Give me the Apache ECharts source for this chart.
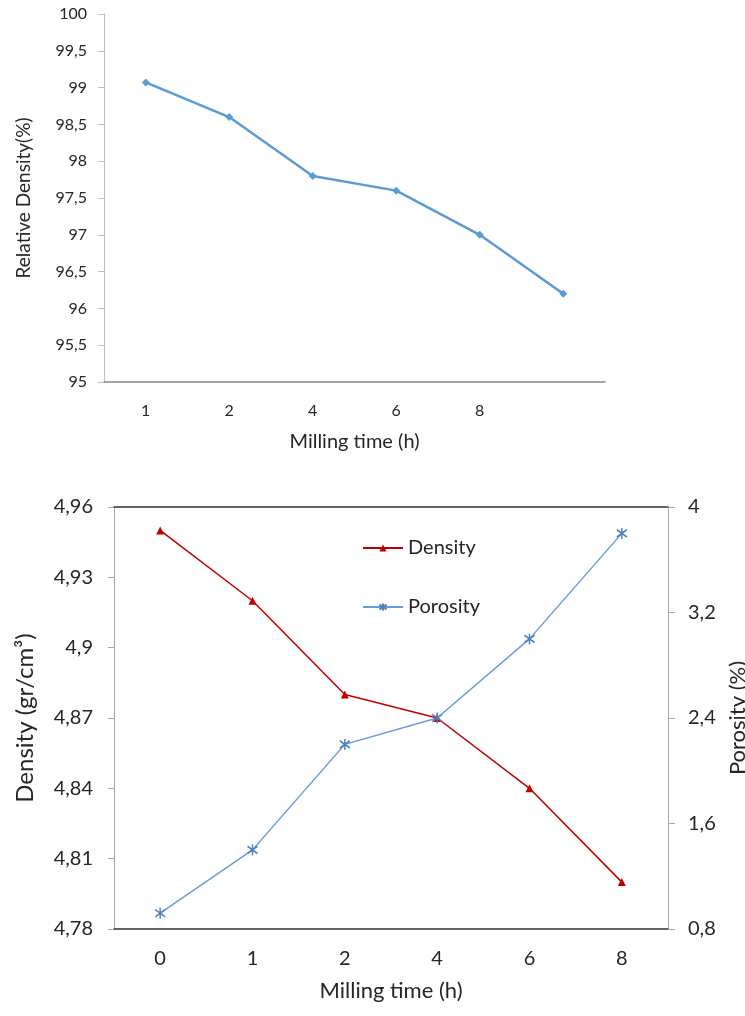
<!DOCTYPE html>
<html>
<head>
<meta charset="utf-8">
<script src="https://cdn.jsdelivr.net/npm/echarts@6/dist/echarts.min.js"></script>
<style>
  html, body { margin: 0; padding: 0; background: #fff; }
  #chart { width: 745px; height: 1016px; }
</style>
</head>
<body>
<div id="chart"></div>
<script>
// top chart: relative density vs milling time
const topCats = ['1', '2', '4', '6', '8', ''];
const relDensity = [99.07, 98.6, 97.8, 97.6, 97.0, 96.2];

// bottom chart: density and porosity vs milling time
const bottomCats = ['0', '1', '2', '4', '6', '8'];
const density = [4.95, 4.92, 4.88, 4.87, 4.84, 4.80];
const porosity = [0.92, 1.4, 2.2, 2.4, 3.0, 3.8];
const densityTicks = [4.78, 4.81, 4.84, 4.87, 4.9, 4.93, 4.96];
const porosityTicks = [0.8, 1.6, 2.4, 3.2, 4];

const font = 'Lato, "Open Sans", sans-serif';
const txt = '#262626';
const comma = v => String(+(+v).toFixed(2)).replace('.', ',');

// star marker like the excel one (vertical + two diagonals)
const starPath = 'path://M0,-5L0,5M-4.3,-3.3L4.3,3.3M-4.3,3.3L4.3,-3.3';

let myChart = echarts.init(document.getElementById('chart'));
const option = {
  animation: false,
  textStyle: { fontFamily: font },
  grid: [
    { left: 104, top: 14, width: 501, height: 368, outerBoundsMode: 'none', containLabel: false },
    { left: 114, top: 507, width: 554, height: 422, outerBoundsMode: 'none', containLabel: false }
  ],
  legend: {
    orient: 'vertical',
    left: 357,
    top: 533,
    itemGap: 39,
    itemWidth: 40,
    itemHeight: 9,
    textStyle: { fontFamily: font, fontSize: 20, color: txt },
    data: ['Density', 'Porosity']
  },
  xAxis: [
    {
      gridIndex: 0, type: 'category', data: topCats,
      axisLine: { lineStyle: { color: '#868686', width: 1.5 } },
      axisTick: { show: false },
      axisLabel: { margin: 21, fontSize: 16, color: txt, fontFamily: font },
      name: 'Milling time (h)', nameLocation: 'middle', nameGap: 50,
      nameTextStyle: { fontSize: 20, color: txt, fontFamily: font }
    },
    {
      gridIndex: 1, type: 'category', data: bottomCats,
      axisLine: { lineStyle: { color: '#333', width: 1.5 } },
      axisTick: { show: false },
      axisLabel: { margin: 20, fontSize: 20, color: txt, fontFamily: font },
      name: 'Milling time (h)', nameLocation: 'middle', nameGap: 51,
      nameTextStyle: { fontSize: 22, color: txt, fontFamily: font }
    },
    {
      // top border of the lower chart
      gridIndex: 1, type: 'category', data: bottomCats, position: 'top',
      axisLine: { lineStyle: { color: '#333', width: 1.5 } },
      axisTick: { show: false },
      axisLabel: { show: false }
    }
  ],
  yAxis: [
    {
      gridIndex: 0, type: 'value', min: 95, max: 100, interval: 0.5,
      axisLine: { show: true, lineStyle: { color: '#bfbfbf' } },
      axisTick: { show: true, length: 6, lineStyle: { color: '#bfbfbf' } },
      splitLine: { show: false },
      axisLabel: { margin: 17, fontSize: 16, color: txt, fontFamily: font, formatter: comma },
      name: 'Relative Density(%)', nameLocation: 'middle', nameGap: 71, nameRotate: 90,
      nameTextStyle: { fontSize: 19, color: txt, fontFamily: font }
    },
    {
      gridIndex: 1, type: 'value', min: 4.78, max: 4.96,
      axisLine: { show: true, lineStyle: { color: '#a6a6a6' } },
      axisTick: { show: true, length: 6, customValues: densityTicks, lineStyle: { color: '#a6a6a6' } },
      splitLine: { show: false },
      axisLabel: { margin: 21, fontSize: 20, color: txt, fontFamily: font, customValues: densityTicks, formatter: comma },
      name: 'Density (gr/cm³)', nameLocation: 'middle', nameGap: 77, nameRotate: 90,
      nameTextStyle: { fontSize: 24, color: txt, fontFamily: font }
    },
    {
      gridIndex: 1, type: 'value', position: 'right', min: 0.8, max: 4,
      axisLine: { show: true, lineStyle: { color: '#a6a6a6' } },
      axisTick: { show: true, length: 7, customValues: porosityTicks, lineStyle: { color: '#a6a6a6' } },
      splitLine: { show: false },
      axisLabel: { margin: 20, fontSize: 20, color: txt, fontFamily: font, customValues: porosityTicks, formatter: comma },
      name: 'Porosity (%)', nameLocation: 'middle', nameGap: 51, nameRotate: 90,
      nameTextStyle: { fontSize: 22, color: txt, fontFamily: font }
    }
  ],
  series: [
    {
      name: 'Relative Density', type: 'line', xAxisIndex: 0, yAxisIndex: 0,
      data: relDensity,
      symbol: 'diamond', symbolSize: 8,
      itemStyle: { color: '#5b9bd5' },
      lineStyle: { color: '#5b9bd5', width: 2.5 }
    },
    {
      name: 'Density', type: 'line', xAxisIndex: 1, yAxisIndex: 1,
      data: density,
      symbol: 'triangle', symbolSize: 8,
      itemStyle: { color: '#c00000' },
      lineStyle: { color: '#c00000', width: 1.5 }
    },
    {
      name: 'Porosity', type: 'line', xAxisIndex: 1, yAxisIndex: 2,
      data: porosity,
      symbol: starPath, symbolSize: [10, 11],
      itemStyle: { color: '#4f81bd', borderColor: '#4f81bd', borderWidth: 1.5 },
      lineStyle: { color: '#6a9ae0', width: 1.5 }
    }
  ]
};
myChart.setOption(option);
</script>
</body>
</html>
